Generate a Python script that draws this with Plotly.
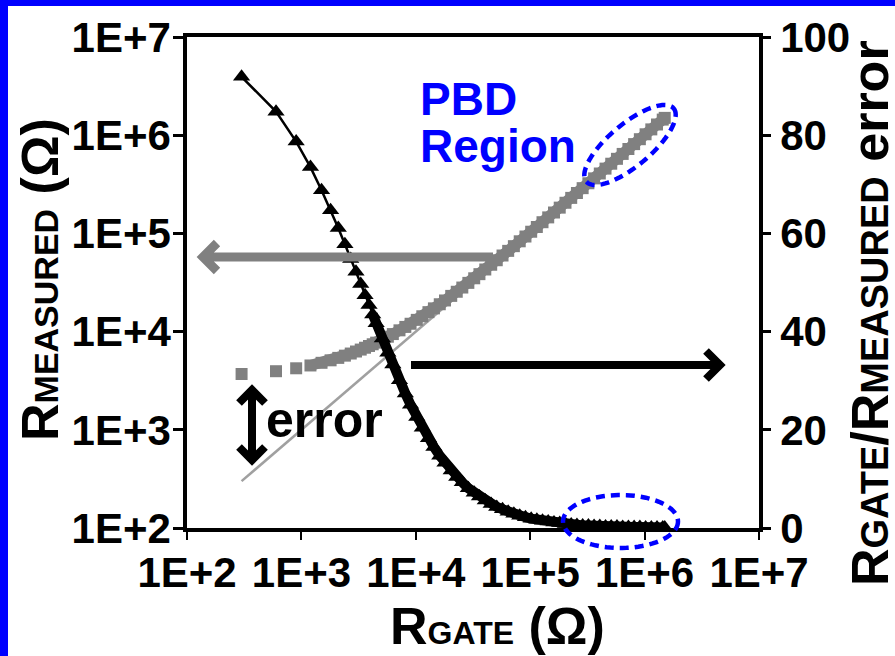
import numpy as np
import plotly.graph_objects as go

# Gate resistance swept (ohms)
r_gate = [300, 600, 900, 1200, 1500, 1800, 2100, 2400, 2700, 3000, 3300, 3600,
          3900, 4200, 4500, 5100, 5700, 6300, 7200, 8100, 9000, 10200, 11400,
          12900, 14400, 16200, 18000, 20400, 22800, 25500, 28800, 32400, 36000,
          40500, 45600, 51000, 57300, 64200, 72000, 81000, 90900, 102000,
          114300, 128100, 143700, 161400, 181200, 203400, 228300, 256200,
          287400, 322500, 361800, 405900, 455400, 510900, 573300, 643200,
          721800, 810000, 909000, 1020000, 1144500, 1284000, 1440600, 1500000]

# Resistance actually measured (ohms)
r_measured = [3700, 3950, 4230, 4520, 4810, 5100, 5400, 5690, 5980, 6270, 6560,
              6850, 7140, 7430, 7720, 8300, 8870, 9440, 10300, 11160, 12020,
              13170, 14330, 15780, 17240, 18990, 20750, 23100, 25450, 28100,
              31350, 34900, 38450, 42900, 47950, 53300, 59550, 66400, 74150,
              83100, 92950, 104000, 116250, 130000, 145550, 163200, 182950,
              205100, 229950, 257800, 288950, 324000, 363300, 407400, 456900,
              512400, 574800, 644700, 723300, 811500, 910500, 1021500, 1146000,
              1285500, 1442100, 1501500]

# Measurement error (%)
error_pct = [91.9, 84.8, 78.7, 73.5, 68.8, 64.7, 61.1, 57.8, 54.8, 52.2, 49.7,
             47.4, 45.4, 43.5, 41.7, 38.6, 35.7, 33.3, 30.1, 27.4, 25.1, 22.6,
             20.4, 18.3, 16.5, 14.7, 13.3, 11.7, 10.4, 9.3, 8.1, 7.2, 6.4, 5.6,
             4.9, 4.3, 3.8, 3.3, 2.9, 2.5, 2.2, 1.9, 1.7, 1.5, 1.3, 1.1, 1.0,
             0.8, 0.7, 0.6, 0.5, 0.5, 0.4, 0.4, 0.3, 0.3, 0.3, 0.2, 0.2, 0.2,
             0.2, 0.1, 0.1, 0.1, 0.1, 0.1]

# Ideal response R_measured = R_gate
ideal_r = [300, 1500000]

# where the sweep points start to merge into a continuous band
gray_band_from = 3
black_band_from = 13

log_tick_vals = [1e2, 1e3, 1e4, 1e5, 1e6, 1e7]
log_tick_text = ["1E+2", "1E+3", "1E+4", "1E+5", "1E+6", "1E+7"]
err_tick_vals = [0, 20, 40, 60, 80, 100]
err_tick_text = ["0", "20", "40", "60", "80", "100"]

FONT = "Liberation Sans, Arial, sans-serif"
GRAY = "#808080"
BLUE = "#0000FF"

W, H = 895, 656
ML, MR, MT, MB = 187, 136, 37, 128
PW, PH = W - ML - MR, H - MT - MB


def fx(x):
    return (x - ML) / PW


def fy(y):
    return (MT + PH - y) / PH


def path(points_list):
    parts = []
    for pts in points_list:
        seg = "M" + " L".join(f"{fx(x):.5f},{fy(y):.5f}" for x, y in pts)
        parts.append(seg)
    return " ".join(parts)


def ellipse(cx, cy, a, b, ang, n=90):
    t = np.linspace(0, 2 * np.pi, n, endpoint=False)
    th = np.radians(ang)
    ux, uy = np.cos(th), -np.sin(th)
    vx, vy = np.sin(th), np.cos(th)
    xs = cx + a * np.cos(t) * ux + b * np.sin(t) * vx
    ys = cy + a * np.cos(t) * uy + b * np.sin(t) * vy
    return path([list(zip(xs, ys))]) + " Z"


fig = go.Figure()

fig.add_trace(go.Scatter(
    x=ideal_r, y=ideal_r, mode="lines",
    line=dict(color="#a0a0a0", width=2.5), yaxis="y", hoverinfo="skip"))

# measured resistance: dense part drawn as a solid band under the markers
fig.add_trace(go.Scatter(
    x=r_gate[gray_band_from:], y=r_measured[gray_band_from:], mode="lines",
    line=dict(color=GRAY, width=11), yaxis="y", hoverinfo="skip"))
fig.add_trace(go.Scatter(
    x=r_gate, y=r_measured, mode="markers",
    marker=dict(symbol="square", size=12, color=GRAY, line=dict(width=0)),
    yaxis="y"))

# error curve
fig.add_trace(go.Scatter(
    x=r_gate[black_band_from:], y=error_pct[black_band_from:], mode="lines",
    line=dict(color="black", width=10), yaxis="y2", hoverinfo="skip"))
fig.add_trace(go.Scatter(
    x=r_gate, y=error_pct, mode="lines+markers",
    line=dict(color="black", width=2.5),
    marker=dict(symbol="triangle-up", size=15, color="black", line=dict(width=0)),
    yaxis="y2"))

tick_font = dict(family=FONT, size=42, color="black", weight="bold")

fig.update_layout(
    width=W, height=H,
    margin=dict(l=ML, r=MR, t=MT, b=MB, pad=0),
    paper_bgcolor="white", plot_bgcolor="white",
    showlegend=False,
    xaxis=dict(type="log", range=[2, 7], tickvals=log_tick_vals, ticktext=log_tick_text,
               ticks="outside", ticklen=8, tickwidth=2, tickcolor="black",
               showline=True, linewidth=3.5, linecolor="black", mirror=True,
               showgrid=False, zeroline=False, tickfont=tick_font,
               ticklabelstandoff=-3),
    yaxis=dict(type="log", range=[2, 7], tickvals=log_tick_vals, ticktext=log_tick_text,
               ticks="outside", ticklen=10, tickwidth=3, tickcolor="black",
               showline=True, linewidth=3.5, linecolor="black",
               showgrid=False, zeroline=False, tickfont=tick_font,
               ticklabelstandoff=-6),
    yaxis2=dict(overlaying="y", side="right", range=[0, 100],
                tickvals=err_tick_vals, ticktext=err_tick_text,
                ticks="outside", ticklen=8, tickwidth=3, tickcolor="black",
                showline=True, linewidth=3.5, linecolor="black",
                showgrid=False, zeroline=False, tickfont=tick_font,
                ticklabelstandoff=1),
)

shapes = []
# blue frame bands on top and left edge
shapes.append(dict(type="rect", xref="paper", yref="paper",
                   x0=fx(0), x1=fx(W), y0=fy(6), y1=fy(0),
                   fillcolor=BLUE, line=dict(width=0)))
shapes.append(dict(type="rect", xref="paper", yref="paper",
                   x0=fx(0), x1=fx(8), y0=fy(H), y1=fy(0),
                   fillcolor=BLUE, line=dict(width=0)))

# gray arrow pointing to the left axis
shapes.append(dict(type="path", xref="paper", yref="paper",
                   path=path([[(493, 257), (203, 257)], [(217, 243), (203, 257), (217, 271)]]),
                   line=dict(color=GRAY, width=9)))
# black arrow pointing to the right axis
shapes.append(dict(type="path", xref="paper", yref="paper",
                   path=path([[(411, 365), (720, 365)], [(706, 351), (720, 365), (706, 379)]]),
                   line=dict(color="black", width=8)))
# double-headed error arrow
shapes.append(dict(type="path", xref="paper", yref="paper",
                   path=path([[(252, 390), (252, 460)],
                              [(239, 403), (252, 390), (265, 403)],
                              [(239, 447), (252, 460), (265, 447)]]),
                   line=dict(color="black", width=8)))
# dashed ellipses marking the PBD region
shapes.append(dict(type="path", xref="paper", yref="paper",
                   path=ellipse(630, 145, 57, 21, 40),
                   line=dict(color=BLUE, width=4.5, dash="9px,6px")))
shapes.append(dict(type="path", xref="paper", yref="paper",
                   path=ellipse(620.5, 521.5, 57.5, 26.5, 0),
                   line=dict(color=BLUE, width=4.5, dash="9px,6px")))
fig.update_layout(shapes=shapes)

annotations = [
    dict(text="<b>PBD</b>", x=fx(418), y=fy(99), xanchor="left", yanchor="middle",
         font=dict(family=FONT, size=46, color=BLUE)),
    dict(text="<b>Region</b>", x=fx(418), y=fy(146), xanchor="left", yanchor="middle",
         font=dict(family=FONT, size=46, color=BLUE)),
    dict(text="<b>error</b>", x=fx(264), y=fy(420), xanchor="left", yanchor="middle",
         font=dict(family=FONT, size=50, color="black")),
    dict(text="<b>R<span style='font-size:34px'>MEASURED</span> (Ω)</b>",
         x=fx(40), y=fy(280), xanchor="center", yanchor="middle", textangle=-90,
         font=dict(family=FONT, size=52, color="black")),
    dict(text="<b>R<span style='font-size:32px'>GATE</span> (Ω)</b>",
         x=fx(497), y=fy(626), xanchor="center", yanchor="middle",
         font=dict(family=FONT, size=52, color="black")),
    dict(text="<b>R<span style='font-size:38px'>GATE</span>/R<span style='font-size:38px'>MEASURED</span> error</b>",
         x=fx(870), y=fy(313), xanchor="center", yanchor="middle", textangle=-90,
         font=dict(family=FONT, size=52, color="black")),
]
for a in annotations:
    a.update(xref="paper", yref="paper", showarrow=False)
fig.update_layout(annotations=annotations)

fig.write_html("out.html")
